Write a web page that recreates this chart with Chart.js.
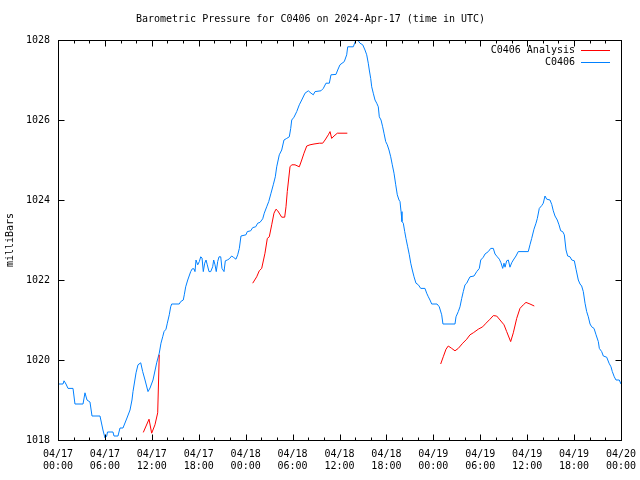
<!DOCTYPE html>
<html>
<head>
<meta charset="utf-8">
<script src="https://cdn.jsdelivr.net/npm/chart.js@4/dist/chart.umd.min.js"></script>
<style>
  body { margin: 0; background: #fff; }
</style>
</head>
<body>
<canvas id="pressureChart" width="640" height="480"></canvas>
<script>
// hours since 04/17 00:00 UTC
const stationHours = [0, 0.64, 0.77, 1.02, 1.28, 1.92, 2.17, 3.2, 3.45, 3.71, 4.09, 4.35, 5.37, 5.75, 6.01, 6.23, 6.33, 7.03, 7.16, 7.67,
  7.93, 8.31, 8.82, 9.21, 9.46, 9.59, 9.98, 10.23, 10.58, 10.83, 11.13, 11.51, 11.77, 12.15, 12.62, 12.95, 13.17, 13.39, 13.56, 13.81,
  13.98, 14.23, 14.41, 14.54, 15.51, 15.69, 16.02, 16.15, 16.33, 16.59, 16.97, 17.17, 17.39, 17.52, 17.65, 17.87, 18.07, 18.25, 18.42, 18.58,
  18.76, 18.93, 19.09, 19.31, 19.53, 19.78, 19.91, 20.08, 20.24, 20.42, 20.59, 20.81, 20.97, 21.23, 21.4, 21.65, 21.91, 22.21, 22.42, 22.76,
  22.98, 23.19, 23.4, 24.04, 24.21, 24.64, 24.9, 25.28, 25.54, 25.83, 26.18, 26.38, 26.69, 26.95, 27.24, 27.53, 27.79, 27.97, 28.3, 28.61,
  28.9, 29.25, 29.58, 29.76, 29.89, 30.18, 30.53, 30.86, 31.17, 31.59, 32.01, 32.36, 32.65, 32.87, 33.63, 33.93, 34.27, 34.7, 34.91, 35.55,
  35.77, 36.06, 36.61, 36.92, 37.05, 37.76, 38.11, 38.33, 38.62, 38.97, 39.26, 39.48, 39.68, 39.81, 39.99, 40.12, 40.32, 40.54, 40.76, 40.96,
  41.09, 41.31, 41.52, 41.69, 41.91, 42.11, 42.33, 42.55, 42.75, 42.97, 43.19, 43.39, 43.61, 43.74, 43.87, 43.99, 44.16, 44.34, 44.5, 44.72,
  44.93, 45.11, 45.31, 45.53, 45.78, 46.08, 46.39, 46.93, 47.15, 47.36, 47.57, 47.79, 48.47, 48.76, 49.07, 49.23, 50.77, 50.9, 51.19, 51.41,
  51.63, 51.83, 52.05, 52.27, 52.47, 52.69, 53.2, 53.55, 53.88, 54.06, 54.39, 54.61, 55.03, 55.34, 55.67, 55.89, 56.18, 56.44, 56.65, 56.87,
  57.04, 57.17, 57.38, 57.59, 57.8, 58.02, 58.23, 58.57, 58.86, 60.14, 60.36, 60.58, 60.87, 61.13, 61.3, 61.55, 61.86, 62.06, 62.28, 62.5,
  62.92, 63.14, 63.34, 63.56, 63.85, 64.07, 64.29, 64.54, 64.75, 64.97, 65.18, 65.48, 65.7, 66.03, 66.25, 66.54, 66.76, 66.97, 67.18, 67.4,
  67.61, 67.82, 68.04, 68.25, 68.55, 68.81, 69.1, 69.23, 69.53, 69.74, 70.17, 70.47, 70.72, 70.89, 71.14, 71.36, 71.78, 72];
const stationMb = [1019.4, 1019.4, 1019.48, 1019.4, 1019.29, 1019.29, 1018.9, 1018.9, 1019.18, 1019.0, 1018.95, 1018.6, 1018.6, 1018.25, 1018.05, 1018.1, 1018.2, 1018.2, 1018.1, 1018.1,
  1018.3, 1018.3, 1018.55, 1018.75, 1019.0, 1019.21, 1019.68, 1019.88, 1019.93, 1019.71, 1019.5, 1019.21, 1019.3, 1019.5, 1019.93, 1020.17, 1020.42, 1020.58, 1020.71, 1020.77,
  1020.92, 1021.13, 1021.33, 1021.4, 1021.4, 1021.46, 1021.5, 1021.63, 1021.83, 1022.0, 1022.21, 1022.28, 1022.28, 1022.21, 1022.5, 1022.38, 1022.46, 1022.58, 1022.55, 1022.21,
  1022.42, 1022.5, 1022.38, 1022.21, 1022.21, 1022.33, 1022.5, 1022.38, 1022.21, 1022.46, 1022.58, 1022.58, 1022.29, 1022.21, 1022.48, 1022.5, 1022.53, 1022.6, 1022.57, 1022.52,
  1022.63, 1022.79, 1023.1, 1023.13, 1023.21, 1023.23, 1023.31, 1023.33, 1023.42, 1023.44, 1023.53, 1023.67, 1023.83, 1023.96, 1024.17, 1024.38, 1024.58, 1024.83, 1025.13, 1025.25,
  1025.5, 1025.54, 1025.58, 1025.79, 1026.0, 1026.07, 1026.21, 1026.38, 1026.5, 1026.67, 1026.73, 1026.67, 1026.63, 1026.71, 1026.73, 1026.79, 1026.92, 1026.92, 1027.13, 1027.14,
  1027.25, 1027.38, 1027.46, 1027.63, 1027.83, 1027.83, 1028.0, 1028.0, 1027.92, 1027.88, 1027.75, 1027.63, 1027.42, 1027.25, 1027.04, 1026.83, 1026.67, 1026.5, 1026.42, 1026.33,
  1026.08, 1026.0, 1025.83, 1025.67, 1025.46, 1025.38, 1025.25, 1025.08, 1024.88, 1024.67, 1024.38, 1024.13, 1024.0, 1023.96, 1023.71, 1023.46, 1023.42, 1023.21, 1023.04, 1022.83,
  1022.63, 1022.42, 1022.25, 1022.08, 1021.92, 1021.88, 1021.79, 1021.79, 1021.67, 1021.58, 1021.5, 1021.4, 1021.4, 1021.33, 1021.13, 1020.9, 1020.9, 1021.08, 1021.21, 1021.33,
  1021.54, 1021.71, 1021.88, 1021.92, 1022.0, 1022.08, 1022.1, 1022.21, 1022.29, 1022.5, 1022.57, 1022.65, 1022.71, 1022.79, 1022.79, 1022.65, 1022.58, 1022.52, 1022.43, 1022.29,
  1022.42, 1022.32, 1022.48, 1022.5, 1022.32, 1022.43, 1022.5, 1022.6, 1022.71, 1022.71, 1022.88, 1023.04, 1023.27, 1023.42, 1023.54, 1023.79, 1023.86, 1023.92, 1024.1, 1024.02,
  1024.0, 1023.89, 1023.73, 1023.6, 1023.5, 1023.38, 1023.23, 1023.21, 1023.13, 1022.75, 1022.6, 1022.58, 1022.5, 1022.48, 1022.27, 1022.0, 1021.9, 1021.85, 1021.71, 1021.42,
  1021.21, 1021.08, 1020.9, 1020.83, 1020.79, 1020.63, 1020.46, 1020.29, 1020.21, 1020.1, 1020.07, 1019.92, 1019.83, 1019.71, 1019.58, 1019.5, 1019.5, 1019.4];

// analysis series, null marks a break in the line
const analysisHours = [10.91, 11.64, 11.98, 12.4, 12.75, 12.95, 18,
  24.9, 25.41, 25.74, 26.05, 26.47, 26.77, 27.02, 27.33, 27.62, 27.88, 28.1, 28.61, 28.99, 29.16, 29.32, 29.67, 29.89, 30.31, 30.86,
  31.17, 31.46, 31.81, 32.23, 32.74, 33.42, 33.85, 34.15, 34.57, 34.79, 35.0, 35.3, 35.72, 37.0, 43,
  48.94, 49.27, 49.62, 49.91, 50.35, 50.77, 51.19, 51.76, 52.27, 52.69, 53.11, 53.75, 54.31, 54.74, 55.25, 55.67, 56.1, 56.53, 57.04, 57.38,
  57.89, 58.23, 58.66, 59.08, 59.51, 59.85, 60.36, 60.91];
const analysisMb = [1018.19, 1018.52, 1018.17, 1018.38, 1018.68, 1020.13, null,
  1021.92, 1022.08, 1022.23, 1022.29, 1022.67, 1023.04, 1023.08, 1023.38, 1023.67, 1023.77, 1023.73, 1023.57, 1023.57, 1023.83, 1024.21, 1024.83, 1024.88, 1024.88, 1024.83,
  1025.0, 1025.17, 1025.35, 1025.38, 1025.4, 1025.42, 1025.42, 1025.5, 1025.63, 1025.71, 1025.54, 1025.6, 1025.67, 1025.67, null,
  1019.9, 1020.08, 1020.27, 1020.35, 1020.29, 1020.23, 1020.29, 1020.42, 1020.52, 1020.63, 1020.68, 1020.77, 1020.83, 1020.92, 1021.02, 1021.11, 1021.1, 1021.0, 1020.88, 1020.71,
  1020.46, 1020.68, 1021.04, 1021.29, 1021.38, 1021.44, 1021.4, 1021.35];

const xTickLabels = [
  ["04/17", "00:00"], ["04/17", "06:00"], ["04/17", "12:00"], ["04/17", "18:00"],
  ["04/18", "00:00"], ["04/18", "06:00"], ["04/18", "12:00"], ["04/18", "18:00"],
  ["04/19", "00:00"], ["04/19", "06:00"], ["04/19", "12:00"], ["04/19", "18:00"],
  ["04/20", "00:00"]
];
const yTicks = [1018, 1020, 1022, 1024, 1026, 1028];

const toPoints = (xs, ys) => xs.map((x, i) => ({ x: x, y: ys[i] }));
const mono = "'DejaVu Sans Mono', 'Liberation Mono', monospace";

// gnuplot style frame: box with inward ticks on all four sides
const frame = {
  id: "frame",
  afterDatasetsDraw(chart) {
    const { ctx, chartArea: a, scales } = chart;
    const L = Math.round(a.left) + 0.5, R = Math.round(a.right) + 0.5;
    const T = Math.round(a.top) + 0.5, B = Math.round(a.bottom) + 0.5;
    ctx.save();
    ctx.strokeStyle = "#000";
    ctx.lineWidth = 1;
    ctx.beginPath();
    for (let h = 0; h <= 72; h += 2) {
      const px = Math.round(scales.x.getPixelForValue(h)) + 0.5;
      const len = h % 6 === 0 ? 6 : 3;
      ctx.moveTo(px, B); ctx.lineTo(px, B - len);
      ctx.moveTo(px, T); ctx.lineTo(px, T + len);
    }
    yTicks.forEach(v => {
      const py = Math.round(scales.y.getPixelForValue(v)) + 0.5;
      ctx.moveTo(L, py); ctx.lineTo(L + 6, py);
      ctx.moveTo(R, py); ctx.lineTo(R - 6, py);
    });
    ctx.stroke();
    ctx.strokeRect(L, T, R - L, B - T);

    // key, top right inside the plot
    ctx.font = "10px " + mono;
    ctx.textAlign = "right";
    ctx.textBaseline = "middle";
    chart.data.datasets.forEach((ds, i) => {
      const y = Math.round(a.top + 10 + i * 12) + 0.5;
      ctx.fillStyle = "#000";
      ctx.fillText(ds.label, a.right - 46, y);
      ctx.strokeStyle = ds.borderColor;
      ctx.beginPath();
      ctx.moveTo(a.right - 40, y);
      ctx.lineTo(a.right - 11, y);
      ctx.stroke();
    });
    ctx.restore();
  }
};

new Chart(document.getElementById("pressureChart"), {
  type: "line",
  data: {
    datasets: [{
      label: "C0406 Analysis",
      data: toPoints(analysisHours, analysisMb),
      borderColor: "#ff0000",
      borderWidth: 1,
      pointRadius: 0,
      spanGaps: false
    }, {
      label: "C0406",
      data: toPoints(stationHours, stationMb),
      borderColor: "#0080ff",
      borderWidth: 1,
      pointRadius: 0
    }]
  },
  options: {
    responsive: false,
    animation: false,
    devicePixelRatio: 1,
    layout: { padding: { left: 0, right: 19, top: 0, bottom: 0 } },
    plugins: {
      legend: { display: false },
      tooltip: { enabled: false },
      title: {
        display: true,
        text: "Barometric Pressure for C0406 on 2024-Apr-17 (time in UTC)",
        color: "#000",
        font: { family: mono, size: 10, weight: "normal", lineHeight: 1.2 },
        padding: { top: 13, bottom: 15 }
      }
    },
    scales: {
      x: {
        type: "linear",
        min: 0,
        max: 72,
        grid: { display: false, drawTicks: false },
        border: { display: false },
        ticks: {
          stepSize: 6,
          autoSkip: false,
          maxRotation: 0,
          padding: 8,
          color: "#000",
          font: { family: mono, size: 10, lineHeight: 1.25 },
          callback: (v, i) => xTickLabels[i]
        },
        afterFit: s => { s.height = 40; s.paddingLeft = 0; s.paddingRight = 0; }
      },
      y: {
        min: 1018,
        max: 1028,
        grid: { display: false, drawTicks: false },
        border: { display: false },
        ticks: {
          stepSize: 2,
          padding: 8,
          color: "#000",
          font: { family: mono, size: 10 },
          callback: v => String(v)
        },
        title: {
          display: true,
          text: "milliBars",
          color: "#000",
          font: { family: mono, size: 10 },
          padding: { top: 4, bottom: 0 }
        },
        afterFit: s => { s.width = 58; }
      }
    }
  },
  plugins: [frame]
});
</script>
</body>
</html>
